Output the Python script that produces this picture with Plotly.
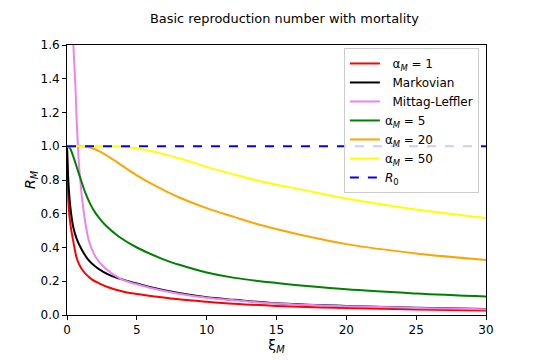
import plotly.graph_objects as go

# values
xi_red = [0, 0.05, 0.12, 0.24, 0.43, 0.72, 1.0, 1.3, 1.8, 2.3, 3.0, 3.5, 4.5, 5, 6, 8, 10, 12, 15, 20, 25, 30]
r_red = [1.0, 0.82, 0.64, 0.54, 0.445, 0.33, 0.28, 0.247, 0.21, 0.188, 0.163, 0.15, 0.13, 0.125, 0.112, 0.093,
         0.079, 0.067, 0.054, 0.041, 0.032, 0.026]

xi_markov = [0, 0.05, 0.12, 0.24, 0.45, 0.72, 1.07, 1.5, 2.03, 2.6, 3.22, 4.4, 5, 6, 8, 10, 12, 15, 20, 25, 30]
r_markov = [1.0, 0.88, 0.76, 0.64, 0.52, 0.445, 0.385, 0.33, 0.287, 0.255, 0.23, 0.2, 0.187, 0.165, 0.13,
            0.105, 0.09, 0.07, 0.054, 0.043, 0.036]

xi_ml = [0.4, 0.45, 0.5, 0.6, 0.67, 0.77, 0.85, 0.95, 1.15, 1.55, 2.03, 2.6, 3.8, 4.65, 5, 6, 8, 10, 12, 15, 20, 25, 30]
r_ml = [1.75, 1.62, 1.52, 1.36, 1.2, 1.02, 0.9, 0.8, 0.64, 0.445, 0.346, 0.287, 0.215, 0.19, 0.182, 0.16,
        0.126, 0.102, 0.087, 0.068, 0.052, 0.042, 0.034]

xi_a5 = [0, 0.2, 0.4, 0.84, 1.0, 1.31, 1.65, 2.03, 2.4, 2.74, 3.7, 5, 6.9, 8.1, 10, 12, 15, 20, 25, 30]
r_a5 = [1.0, 0.99, 0.95, 0.84, 0.8, 0.725, 0.66, 0.605, 0.565, 0.533, 0.465, 0.4, 0.33, 0.296, 0.252, 0.22,
        0.19, 0.152, 0.128, 0.11]

xi_a20 = [0, 1.0, 1.5, 2, 2.5, 3, 3.5, 4, 5, 6, 7, 8, 10, 12, 14, 17, 20, 25, 30]
r_a20 = [1.0, 1.0, 0.995, 0.982, 0.962, 0.937, 0.91, 0.882, 0.828, 0.78, 0.737, 0.698, 0.633, 0.58, 0.53,
         0.47, 0.42, 0.365, 0.326]

xi_a50 = [0, 3, 4, 5, 6, 7, 8.5, 10, 12, 14, 17, 20, 25, 30]
r_a50 = [1.0, 1.0, 0.997, 0.988, 0.972, 0.952, 0.917, 0.878, 0.832, 0.79, 0.74, 0.69, 0.625, 0.575]

xi_r0 = [0, 30]
r0 = [1.0, 1.0]

curves = [
    (xi_red, r_red, "red", "\u00a0\u00a0α<sub><i>M</i></sub> = 1", "solid"),
    (xi_markov, r_markov, "black", "\u00a0\u00a0Markovian", "solid"),
    (xi_ml, r_ml, "violet", "\u00a0\u00a0Mittag-Leffler", "solid"),
    (xi_a5, r_a5, "green", "α<sub><i>M</i></sub> = 5", "solid"),
    (xi_a20, r_a20, "orange", "α<sub><i>M</i></sub> = 20", "solid"),
    (xi_a50, r_a50, "yellow", "α<sub><i>M</i></sub> = 50", "solid"),
    (xi_r0, r0, "blue", "<i>R</i><sub>0</sub>", "dash"),
]

fig = go.Figure()
for x, y, col, name, dash in curves:
    fig.add_trace(go.Scatter(
        x=x, y=y, mode="lines", name=name,
        line=dict(color=col, width=2, dash=dash, shape="linear" if dash == "dash" else "spline"),
    ))

axis_style = dict(
    showgrid=False, zeroline=False, showline=True, mirror=True,
    linecolor="black", linewidth=1, ticks="outside", ticklen=4, tickcolor="black",
    tickfont=dict(size=12, color="black"),
)

# page body has an 8px margin, so the plot area is shifted by that much
fig.update_layout(
    width=540, height=360,
    margin=dict(l=59, r=62, t=37, b=53),
    paper_bgcolor="white", plot_bgcolor="white",
    font=dict(family="DejaVu Sans", size=12, color="black"),
    title=dict(text="Basic reproduction number with mortality", x=0.512, xanchor="center",
               y=0.972, yanchor="middle", font=dict(size=12.9)),
    xaxis=dict(range=[0, 30], tickvals=[0, 5, 10, 15, 20, 25, 30],
               title=dict(text="ξ<sub><i>M</i></sub>", standoff=3), **axis_style),
    yaxis=dict(range=[0, 1.6], tickvals=[0, 0.2, 0.4, 0.6, 0.8, 1.0, 1.2, 1.4, 1.6], tickformat=".1f",
               title=dict(text="<i>R</i><sub><i>M</i></sub>", standoff=1), **axis_style),
    legend=dict(x=0.983, y=0.989, xanchor="right", yanchor="top",
                bgcolor="rgba(255,255,255,0.8)", bordercolor="#cccccc", borderwidth=1,
                font=dict(size=12), itemwidth=30, tracegroupgap=0),
    showlegend=True,
)

fig.write_html("out.html")
